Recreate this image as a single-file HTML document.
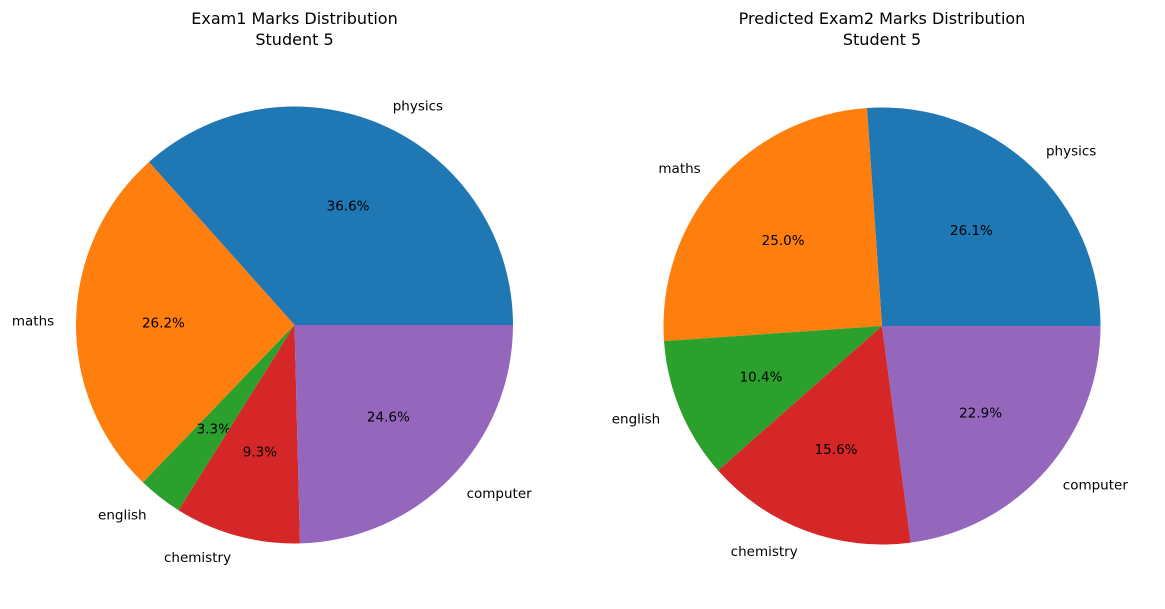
<!DOCTYPE html>
<html><head><meta charset="utf-8"><style>
body{margin:0;background:#fff;}
svg{display:block;font-family:"DejaVu Sans","Liberation Sans",sans-serif;}
</style></head><body>
<svg id="chart" width="1165" height="609" viewBox="0 0 1165 609">
<text x="294.5" y="24" font-size="16" text-anchor="middle">Exam1 Marks Distribution</text>
<text x="294.5" y="45" font-size="16" text-anchor="middle">Student 5</text>
<text x="882" y="24" font-size="16" text-anchor="middle">Predicted Exam2 Marks Distribution</text>
<text x="882" y="45" font-size="16" text-anchor="middle">Student 5</text>
</svg>
<script>
const subjects = ["physics","maths","english","chemistry","computer"];
const exam1Values = [36.6, 26.2, 3.3, 9.3, 24.6];
const exam2Values = [26.1, 25.0, 10.4, 15.6, 22.9];
const colors = ["#1f77b4","#ff7f0e","#2ca02c","#d62728","#9467bd"];
const svg = document.getElementById('chart');
const NS = "http://www.w3.org/2000/svg";
function drawPie(values, cx, cy, r, prefix){
  const total = values.reduce((a,b)=>a+b,0);
  let start = 0;
  values.forEach((v,i)=>{
    const sweep = v/total*360;
    const a0 = start*Math.PI/180, a1 = (start+sweep)*Math.PI/180;
    const x0 = cx + r*Math.cos(a0), y0 = cy - r*Math.sin(a0);
    const x1 = cx + r*Math.cos(a1), y1 = cy - r*Math.sin(a1);
    const large = sweep > 180 ? 1 : 0;
    const p = document.createElementNS(NS,'path');
    p.setAttribute('d',`M${cx},${cy} L${x0},${y0} A${r},${r} 0 ${large} 0 ${x1},${y1} Z`);
    p.setAttribute('fill',colors[i]);
    
    
    svg.appendChild(p);
    const mid = (start+sweep/2)*Math.PI/180;
    const lx = cx + 1.1*r*Math.cos(mid), ly = cy - 1.1*r*Math.sin(mid);
    const t = document.createElementNS(NS,'text');
    t.setAttribute('x',lx); t.setAttribute('y',ly+5);
    t.setAttribute('font-size','13.5');
    t.setAttribute('text-anchor', Math.cos(mid) > 0 ? 'start' : 'end');
    t.textContent = subjects[i];
    
    
    svg.appendChild(t);
    const px = cx + 0.6*r*Math.cos(mid), py = cy - 0.6*r*Math.sin(mid);
    const q = document.createElementNS(NS,'text');
    q.setAttribute('x',px); q.setAttribute('y',py+5);
    q.setAttribute('font-size','13.5');
    q.setAttribute('text-anchor','middle');
    q.textContent = (v/total*100).toFixed(1)+'%';
    
    
    svg.appendChild(q);
    start += sweep;
  });
}
drawPie(exam1Values, 294.5, 325, 218.5, 'exam1');
drawPie(exam2Values, 882, 326, 218.5, 'exam2');
</script>
</body></html>
